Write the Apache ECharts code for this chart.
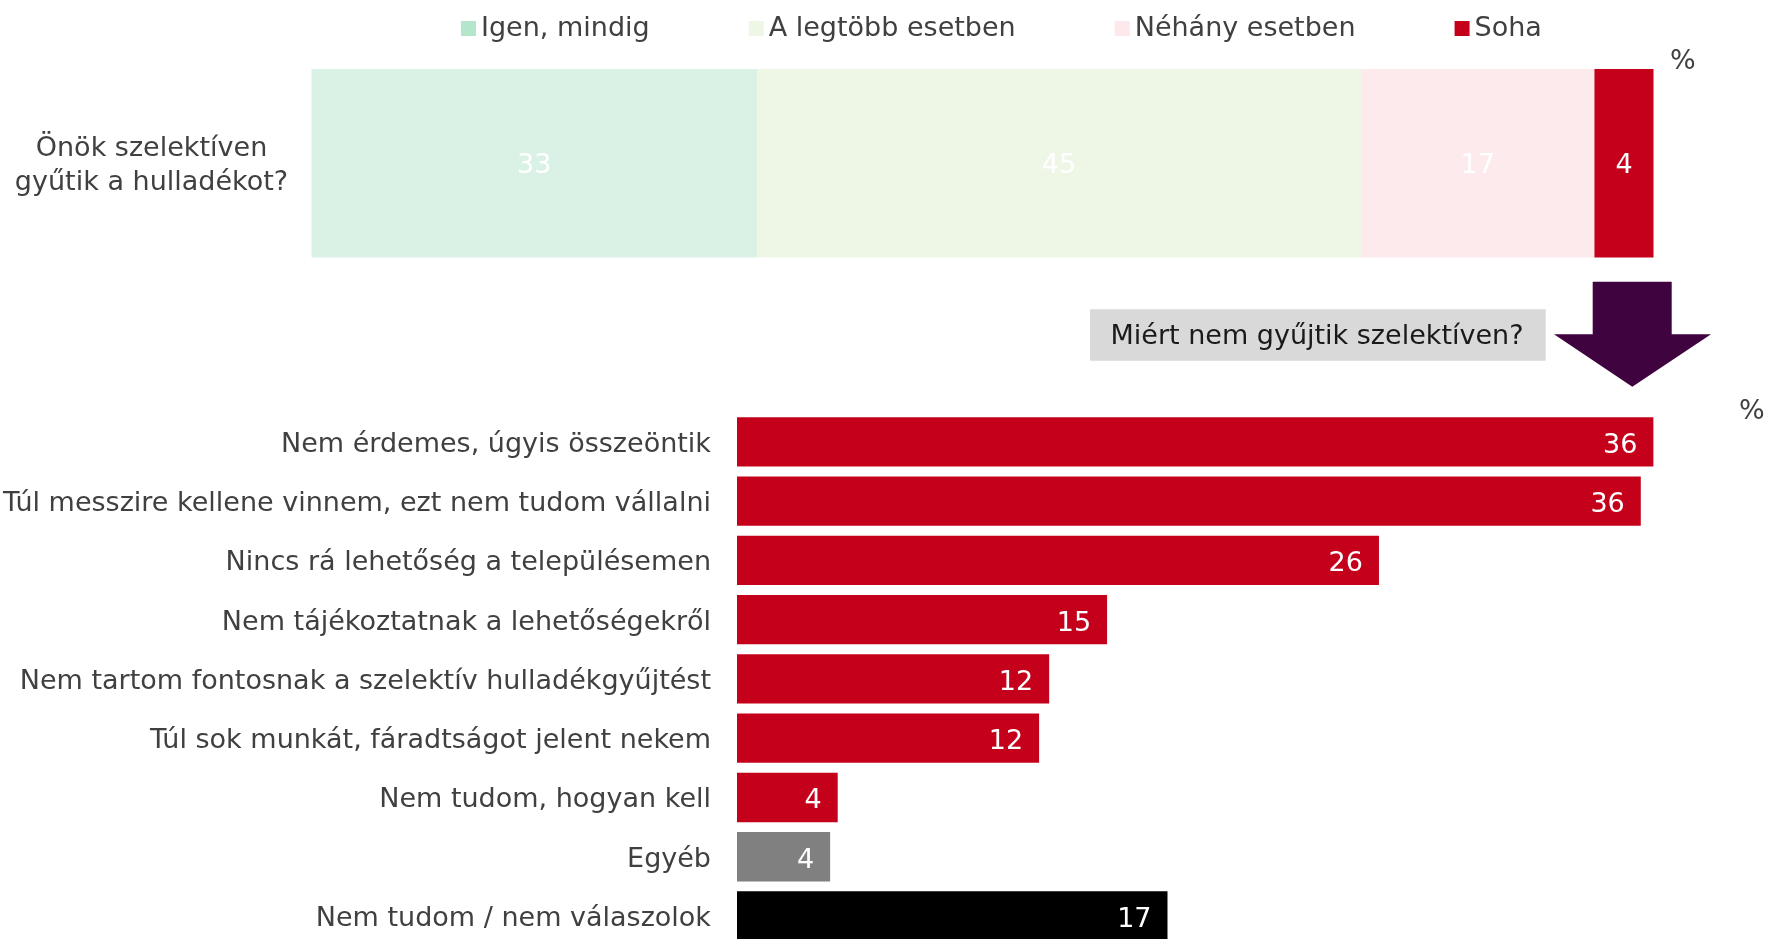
<!DOCTYPE html>
<html>
<head>
<meta charset="utf-8">
<script src="https://cdn.jsdelivr.net/npm/echarts@6/dist/echarts.min.js"></script>
<style>
  html, body { margin: 0; padding: 0; background: #fff; }
  #chart { width: 1770px; height: 939px; }
</style>
</head>
<body>
<div id="chart"></div>
<script>
// felső kérdés – megoszlás (%)
const topQuestion = ['Önök szelektíven\ngyűtik a hulladékot?']
const answerNames = ['Igen, mindig', 'A legtöbb esetben', 'Néhány esetben', 'Soha']
const answerValues = [33.2, 45.0, 17.4, 4.4]

// miért nem gyűjtik szelektíven (%)
const reasonLabels = [
  'Nem érdemes, úgyis összeöntik',
  'Túl messzire kellene vinnem, ezt nem tudom vállalni',
  'Nincs rá lehetőség a településemen',
  'Nem tájékoztatnak a lehetőségekről',
  'Nem tartom fontosnak a szelektív hulladékgyűjtést',
  'Túl sok munkát, fáradtságot jelent nekem',
  'Nem tudom, hogyan kell',
  'Egyéb',
  'Nem tudom / nem válaszolok'
]
const reasonValues = [36.4, 35.9, 25.5, 14.7, 12.4, 12.0, 4.0, 3.7, 17.1]

const FONT = 'DejaVu Sans'
const FS = 27
const TEXT = '#404040'
const RED = '#c4001a'

// szegmens színek (oszlop) és jelmagyarázat ikonszínek
const barColors = ['#daf2e5', '#eef7e6', '#fdeaed', RED]
const iconColors = ['#b3e6cb', '#eef7e6', '#fde8eb', RED]

const chart = echarts.init(document.getElementById('chart'))

const topSeries = answerNames.map((name, i) => ({
  name: name,
  type: 'bar',
  stack: 'top',
  xAxisIndex: 0,
  yAxisIndex: 0,
  barCategoryGap: '0%',
  itemStyle: { color: barColors[i] },
  label: {
    show: true,
    position: 'inside',
    offset: [0, 3],
    color: '#fff',
    fontFamily: FONT,
    fontSize: FS,
    formatter: p => Math.round(p.value)
  },
  data: [answerValues[i]]
}))

const option = {
  animation: false,
  textStyle: { fontFamily: FONT },
  legend: {
    left: 456,
    top: 10,
    itemGap: 99,
    itemWidth: 15,
    itemHeight: 15,
    icon: 'rect',
    textStyle: { fontFamily: FONT, fontSize: FS, color: TEXT },
    data: answerNames.map((n, i) => ({ name: n, itemStyle: { color: iconColors[i] } }))
  },
  grid: [
    { left: 311.5, width: 1342, top: 69, height: 188.5 },
    // a kategóriák a tengely osztásain ülnek (boundaryGap: false)
    { left: 737, width: 1007, top: 441.9, height: 474.1 }
  ],
  xAxis: [
    { gridIndex: 0, type: 'value', min: 0, max: 100, show: false },
    { gridIndex: 1, type: 'value', min: 0, max: 40, show: false }
  ],
  yAxis: [
    {
      gridIndex: 0,
      type: 'category',
      data: topQuestion,
      axisLine: { show: false },
      axisTick: { show: false },
      axisLabel: {
        margin: 160,
        align: 'center',
        // egy vékony üres sor felül, hogy a szöveg kicsit lejjebb kerüljön
        formatter: v => '{s| }\n' + v.split('\n').map(t => '{a|' + t + '}').join('\n'),
        rich: {
          s: { fontSize: 1, lineHeight: 6 },
          a: { fontFamily: FONT, fontSize: FS, lineHeight: 34, color: TEXT }
        }
      }
    },
    {
      gridIndex: 1,
      type: 'category',
      inverse: true,
      boundaryGap: false,
      data: reasonLabels,
      axisLine: { show: false },
      axisTick: { show: false },
      axisLabel: {
        margin: 26,
        verticalAlign: 'top',
        lineHeight: 6,
        fontFamily: FONT,
        fontSize: FS,
        color: TEXT
      }
    }
  ],
  series: topSeries.concat([{
    name: 'reasons',
    type: 'bar',
    xAxisIndex: 1,
    yAxisIndex: 1,
    barWidth: 49.3,
    itemStyle: {
      color: p => p.name === 'Egyéb' ? '#808080'
        : (p.name === 'Nem tudom / nem válaszolok' ? '#000000' : RED)
    },
    label: {
      show: true,
      position: 'insideRight',
      distance: 16,
      offset: [0, 4],
      color: '#fff',
      fontFamily: FONT,
      fontSize: FS,
      formatter: p => Math.round(p.value)
    },
    data: reasonValues
  }]),
  graphic: [
    // % jelek
    { type: 'text', left: 1670, top: 48, style: { text: '%', fontFamily: FONT, fontSize: FS, fill: TEXT } },
    { type: 'text', left: 1739, top: 398, style: { text: '%', fontFamily: FONT, fontSize: FS, fill: TEXT } },
    // kérdés doboz
    { type: 'rect', shape: { x: 1090, y: 309.3, width: 455.7, height: 51.4 }, style: { fill: '#d9d9d9' } },
    {
      type: 'text',
      x: 1317, y: 337,
      style: {
        text: 'Miért nem gyűjtik szelektíven?',
        fontFamily: FONT, fontSize: FS, fill: '#1a1a1a',
        align: 'center', verticalAlign: 'middle'
      }
    },
    // lefelé mutató nyíl
    {
      type: 'polygon',
      shape: {
        points: [[1592.7, 281.7], [1671.7, 281.7], [1671.7, 334.3], [1711, 334.3],
          [1632.3, 386.7], [1554, 334.3], [1592.7, 334.3]]
      },
      style: { fill: '#3f033f' }
    }
  ]
}

chart.setOption(option)
</script>
</body>
</html>
